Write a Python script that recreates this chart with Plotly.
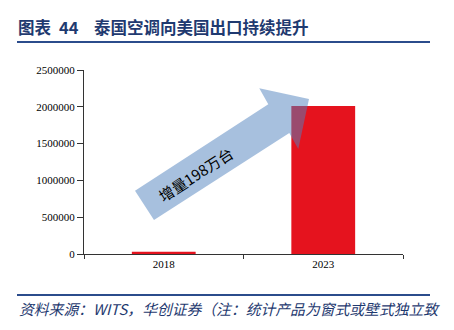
import plotly.graph_objects as go

# Thai air-conditioner exports to the US (units)
years = ["2018", "2023"]
units = [30000, 2010000]
increase_label = "增量198万台"

title_prefix = "图表"
title_number = "44"
title_text = "泰国空调向美国出口持续提升"
source_line1 = "资料来源：WITS，华创证券（注：统计产品为窗式或壁式独立致"
source_line2 = "冷热型空气调节器）"

W, H = 454, 330
L, R, T, B = 84, 51, 70, 76
PW, PH = W - L - R, H - T - B


def px(x):
    return (x - L) / PW


def py(y):
    return (H - B - y) / PH


fig = go.Figure()
fig.add_trace(go.Bar(
    x=years, y=units,
    marker=dict(color="#E5131E", line=dict(width=0)),
    hoverinfo="skip",
))

# block arrow pointing up-right toward the 2023 bar
arrow_pts = [(135, 190.7), (154, 220), (289.3, 133), (298.3, 149),
             (309, 99), (259.3, 88.3), (268.3, 104.3)]
path = "M " + " L ".join(f"{px(x):.4f},{py(y):.4f}" for x, y in arrow_pts) + " Z"

navy = "#1F3A70"
shapes = [
    dict(type="path", xref="paper", yref="paper", path=path,
         fillcolor="#4F81BD", opacity=0.5, line=dict(width=0), layer="above"),
    dict(type="line", xref="paper", yref="paper", x0=px(17), x1=px(430),
         y0=py(42), y1=py(42), line=dict(color="#2B4C8C", width=2)),
    dict(type="line", xref="paper", yref="paper", x0=px(17), x1=px(430),
         y0=py(295), y1=py(295), line=dict(color="#2B4C8C", width=2)),
]

title_font = dict(family="Noto Sans CJK SC", size=16.5, color=navy)
annotations = [
    dict(xref="paper", yref="paper", x=px(16), y=py(27), xanchor="left", yanchor="middle",
         text=f"<b>{title_prefix}</b>", showarrow=False, font=title_font),
    dict(xref="paper", yref="paper", x=px(57), y=py(27), xanchor="left", yanchor="middle",
         text=f"<b>{title_number}</b>", showarrow=False, font=title_font),
    dict(xref="paper", yref="paper", x=px(92), y=py(27), xanchor="left", yanchor="middle",
         text=f"<b>{title_text}</b>", showarrow=False, font=title_font),
    dict(xref="paper", yref="paper", x=px(195), y=py(174), xanchor="center", yanchor="middle",
         text=increase_label, textangle=-33, showarrow=False,
         font=dict(family="Noto Sans CJK SC", size=15, color="#000000")),
    dict(xref="paper", yref="paper", x=px(17), y=py(308), xanchor="left", yanchor="middle",
         text=f"<i>{source_line1}</i>", showarrow=False,
         font=dict(family="Noto Sans CJK SC", size=14.8, color=navy)),
    dict(xref="paper", yref="paper", x=px(22), y=py(336), xanchor="left", yanchor="middle",
         text=f"<i>{source_line2}</i>", showarrow=False,
         font=dict(family="Noto Sans CJK SC", size=14.8, color=navy)),
]

fig.update_layout(
    width=W, height=H,
    margin=dict(l=L, r=R, t=T, b=B, pad=0),
    paper_bgcolor="white", plot_bgcolor="white",
    showlegend=False, bargap=0.6,
    shapes=shapes, annotations=annotations,
    xaxis=dict(
        type="category", tickson="boundaries", ticks="outside", ticklen=4,
        tickcolor="#333333", showline=True, linecolor="#333333", linewidth=1,
        showgrid=False, tickfont=dict(family="Liberation Serif", size=11, color="#000000"),
    ),
    yaxis=dict(
        range=[0, 2500000], dtick=500000, tickformat="d",
        ticks="outside", ticklen=6, tickcolor="#333333",
        showline=True, linecolor="#333333", linewidth=1,
        showgrid=False, zeroline=False,
        tickfont=dict(family="Liberation Serif", size=11, color="#000000"),
    ),
)

fig.write_html("out.html")
